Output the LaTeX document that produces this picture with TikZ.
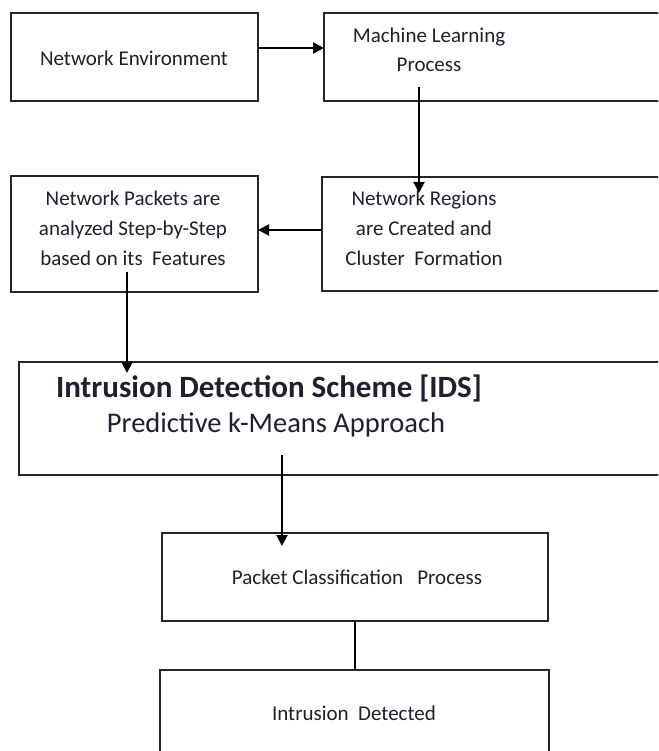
\documentclass[tikz,border=0pt]{standalone}
\usepackage{fontspec}
\setmainfont{Carlito}
\usetikzlibrary{arrows.meta}
\definecolor{txt}{rgb}{0.12,0.12,0.18}
\tikzset{
  box/.style={draw=black!85, line width=2.4pt, rectangle, inner sep=0pt, outer sep=0pt},
  lbl/.style={text=txt, align=center, inner sep=0pt, font=\fontsize{21}{30}\selectfont},
  arr/.style={draw=black, line width=2pt, -{Triangle[width=11pt,length=11pt]}},
  conn/.style={draw=black, line width=2pt}
}
\begin{document}
\begin{tikzpicture}[x=1pt,y=-1pt]
\useasboundingbox (0,0) rectangle (658,751);
\clip (0,0) rectangle (658,751);
% boxes
\node[box, minimum width=247pt, minimum height=88pt] (ne) at (134.5,57) {};
\node[box, minimum width=380pt, minimum height=88pt] (ml) at (514,57) {};
\node[box, minimum width=247pt, minimum height=116pt] (np) at (134.5,234) {};
\node[box, minimum width=380pt, minimum height=114pt] (nr) at (512,234) {};
\node[box, minimum width=690pt, minimum height=113pt] (ids) at (364,418.5) {};
\node[box, minimum width=386pt, minimum height=88pt] (pc) at (355,577) {};
\node[box, minimum width=389pt, minimum height=120pt] (id) at (354.5,730) {};
% texts
\node[lbl] (tne) at (134,58) {Network Environment};
\node[lbl, font=\fontsize{21}{29}\selectfont] (tml) at (429,50) {Machine Learning\\Process};
\node[lbl] (tnr) at (424,228) {Network Regions\\are Created and\\Cluster\ \ Formation};
\node[lbl] (tnp) at (133,228) {Network Packets are\\analyzed Step-by-Step\\based on its\ \ Features};
\node[lbl, font=\bfseries\fontsize{31}{36}\selectfont] (tids) at (269,388) {Intrusion Detection Scheme [IDS]};
\node[lbl, font=\fontsize{28.5}{34}\selectfont] (tpk) at (276,425) {Predictive k-Means Approach};
\node[lbl] (tpc) at (357,577) {Packet Classification\ \ \ Process};
\node[lbl] (tid) at (354,713) {Intrusion\ \ Detected};
% connector end points
\coordinate (a1s) at (ne.east |- 0,48);
\coordinate (a1e) at (ml.west |- 0,48);
\coordinate (a2s) at (419,87);
\coordinate (a2e) at (419,193);
\coordinate (a3s) at (nr.west |- 0,230);
\coordinate (a3e) at (np.east |- 0,230);
\coordinate (a4s) at (127,272);
\coordinate (a4e) at (127,373);
\coordinate (a5s) at (282,455);
\coordinate (a5e) at (282,546);
\coordinate (l6s) at (355,621);
\coordinate (l6e) at (355,670);
% connectors
\draw[arr] (a1s) -- (a1e);
\draw[arr] (a2s) -- (a2e);
\draw[arr] (a3s) -- (a3e);
\draw[arr] (a4s) -- (a4e);
\draw[arr] (a5s) -- (a5e);
\draw[conn] (l6s) -- (l6e);
\end{tikzpicture}
\end{document}
